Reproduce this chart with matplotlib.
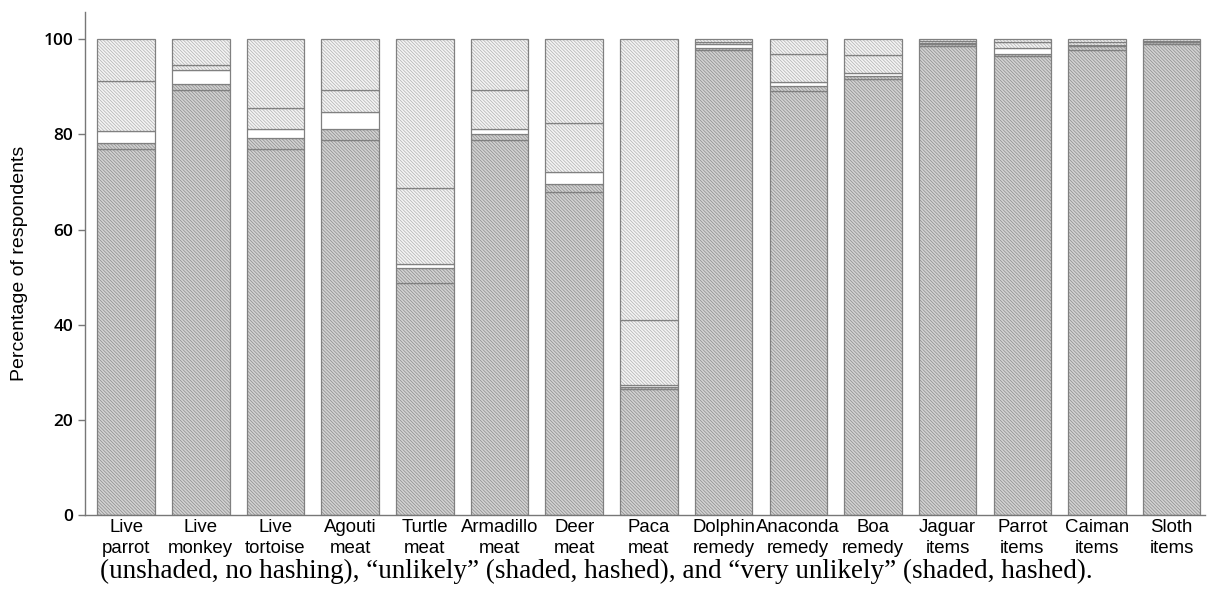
import numpy as np
import matplotlib.pyplot as plt

# Willingness to buy each wildlife product, stacked by response
products = ['Live\nparrot', 'Live\nmonkey', 'Live\ntortoise', 'Agouti\nmeat', 'Turtle\nmeat',
            'Armadillo\nmeat', 'Deer\nmeat', 'Paca\nmeat', 'Dolphin\nremedy', 'Anaconda\nremedy',
            'Boa\nremedy', 'Jaguar\nitems', 'Parrot\nitems', 'Caiman\nitems', 'Sloth\nitems']

very_likely = [77.0, 89.4, 77.0, 78.8, 48.7, 78.8, 67.8, 26.4, 97.8, 89.2, 91.6, 98.6, 96.4, 97.8, 98.9]
likely = [1.1, 1.1, 2.2, 2.3, 3.3, 1.2, 1.7, 0.6, 0.4, 1.0, 0.7, 0.4, 0.4, 0.7, 0.4]
neutral = [2.7, 3.1, 2.0, 3.5, 0.8, 1.1, 2.5, 0.3, 0.8, 0.7, 0.5, 0.1, 1.4, 0.2, 0.1]
unlikely = [10.5, 0.9, 4.4, 4.7, 15.9, 8.3, 10.3, 13.7, 0.4, 5.9, 3.8, 0.4, 1.1, 0.6, 0.3]
very_unlikely = [8.7, 5.5, 14.4, 10.7, 31.3, 10.6, 17.7, 59.0, 0.6, 3.2, 3.4, 0.5, 0.7, 0.7, 0.3]

plt.rcParams['hatch.linewidth'] = 0.5

fig = plt.figure(figsize=(12.15, 5.99), dpi=100)
ax = fig.add_axes([0.070, 0.140, 0.922, 0.840])

x = np.arange(len(products))
width = 0.77
dense = '\\' * 10
segments = [
    (very_likely, '#d2d2d2', '#8c8c8c', dense),
    (likely, '#d2d2d2', '#8c8c8c', dense),
    (neutral, 'white', 'white', ''),
    (unlikely, '#f4f4f4', '#b0b0b0', dense),
    (very_unlikely, '#f4f4f4', '#b0b0b0', dense),
]

bottom = np.zeros(len(products))
for vals, face, hcol, hatch in segments:
    vals = np.array(vals)
    ax.bar(x, vals, width, bottom=bottom, color=face, edgecolor=hcol,
           hatch=hatch, linewidth=0)
    ax.bar(x, vals, width, bottom=bottom, fill=False, edgecolor='#808080',
           linewidth=0.9)
    bottom += vals

ax.set_xlim(-0.55, 14.45)
ax.set_ylim(0, 105.7)
ax.set_yticks([0, 20, 40, 60, 80, 100])
ax.set_xticks(x)
ax.set_xticklabels(products, fontsize=13.4, family='Liberation Sans', linespacing=1.3)
for lab in ax.get_yticklabels():
    lab.set_family('Open Sans')
    lab.set_fontweight('semibold')
    lab.set_fontsize(12.5)
ax.tick_params(axis='x', length=0, pad=3)
ax.tick_params(axis='y', length=5, color='#777777', width=1)
ax.set_ylabel('Percentage of respondents', fontsize=14, family='Liberation Sans', labelpad=11)

for side in ['top', 'right']:
    ax.spines[side].set_visible(False)
for side in ['left', 'bottom']:
    ax.spines[side].set_color('#777777')
    ax.spines[side].set_linewidth(1)

fig.text(0.082, 0.046,
         '(unshaded, no hashing), \u201cunlikely\u201d (shaded, hashed), and \u201cvery unlikely\u201d (shaded, hashed).',
         fontsize=19.5, family='Liberation Serif', ha='left', va='center')

fig.savefig('out.png', dpi=100)
